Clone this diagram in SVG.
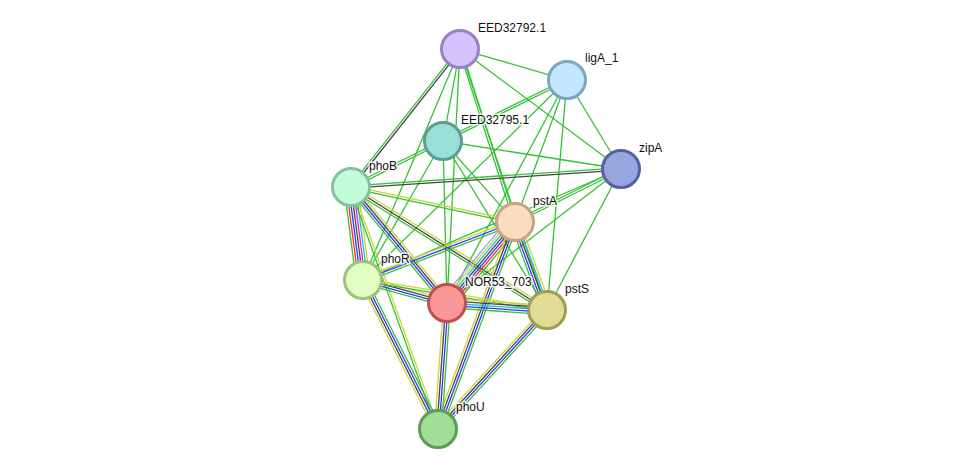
<svg xmlns="http://www.w3.org/2000/svg" width="976" height="474" viewBox="0 0 976 474">
<style>
line{stroke-width:1.3;fill:none}
.g{stroke:#33c233}.k{stroke:#454545}.b{stroke:#3434ff}.y{stroke:#c8d43a}.r{stroke:#ff2a2a}.m{stroke:#d22ad2}.c{stroke:#28bcd4}.v{stroke:#a0a0ff}
circle{stroke-width:3}
text{font-family:"Liberation Sans",Arial,sans-serif;font-size:12px;fill:#111;stroke:#fff;stroke-width:3;stroke-opacity:0.85;paint-order:stroke;stroke-linejoin:round}
</style>
<rect width="976" height="474" fill="#fff"/>
<g id="edges">
<g transform="translate(460,49) rotate(16.16)"><line class="g" x1="0" y1="0" x2="111.4" y2="0"/></g>
<g transform="translate(460,49) rotate(100.47)"><line class="g" x1="0" y1="0" x2="93.6" y2="0"/></g>
<g transform="translate(460,49) rotate(36.70)"><line class="g" x1="0" y1="0" x2="200.8" y2="0"/></g>
<g transform="translate(460,49) rotate(72.36)"><line class="g" x1="0" y1="-1.15" x2="181.5" y2="-1.15"/><line class="g" x1="0" y1="1.15" x2="181.5" y2="1.15"/></g>
<g transform="translate(460,49) rotate(92.93)"><line class="g" x1="0" y1="0" x2="254.3" y2="0"/></g>
<g transform="translate(460,49) rotate(112.78)"><line class="g" x1="0" y1="0" x2="250.5" y2="0"/></g>
<g transform="translate(460,49) rotate(71.57)"><line class="g" x1="0" y1="0" x2="275.1" y2="0"/></g>
<g transform="translate(460,49) rotate(128.31)"><line class="k" x1="0" y1="-1.15" x2="175.9" y2="-1.15"/><line class="g" x1="0" y1="1.15" x2="175.9" y2="1.15"/></g>
<g transform="translate(567,80) rotate(153.80)"><line class="g" x1="0" y1="-1.15" x2="138.2" y2="-1.15"/><line class="g" x1="0" y1="1.15" x2="138.2" y2="1.15"/></g>
<g transform="translate(567,80) rotate(135.57)"><line class="g" x1="0" y1="0" x2="285.7" y2="0"/></g>
<g transform="translate(567,80) rotate(118.29)"><line class="g" x1="0" y1="0" x2="253.2" y2="0"/></g>
<g transform="translate(567,80) rotate(110.11)"><line class="g" x1="0" y1="0" x2="151.2" y2="0"/></g>
<g transform="translate(567,80) rotate(94.97)"><line class="g" x1="0" y1="0" x2="230.9" y2="0"/></g>
<g transform="translate(567,80) rotate(58.75)"><line class="g" x1="0" y1="0" x2="104.1" y2="0"/></g>
<g transform="translate(443,141) rotate(153.43)"><line class="g" x1="0" y1="-1.15" x2="102.9" y2="-1.15"/><line class="g" x1="0" y1="1.15" x2="102.9" y2="1.15"/></g>
<g transform="translate(443,141) rotate(8.94)"><line class="g" x1="0" y1="0" x2="180.2" y2="0"/></g>
<g transform="translate(443,141) rotate(48.37)"><line class="g" x1="0" y1="0" x2="108.4" y2="0"/></g>
<g transform="translate(443,141) rotate(88.59)"><line class="g" x1="0" y1="0" x2="162" y2="0"/></g>
<g transform="translate(443,141) rotate(58.39)"><line class="g" x1="0" y1="0" x2="198.4" y2="0"/></g>
<g transform="translate(443,141) rotate(119.92)"><line class="g" x1="0" y1="0" x2="160.4" y2="0"/></g>
<g transform="translate(621,169) rotate(176.19)"><line class="k" x1="0" y1="-1.15" x2="270.6" y2="-1.15"/><line class="g" x1="0" y1="1.15" x2="270.6" y2="1.15"/></g>
<g transform="translate(621,169) rotate(153.43)"><line class="g" x1="0" y1="-1.15" x2="118.5" y2="-1.15"/><line class="g" x1="0" y1="1.15" x2="118.5" y2="1.15"/></g>
<g transform="translate(621,169) rotate(142.40)"><line class="g" x1="0" y1="0" x2="219.6" y2="0"/></g>
<g transform="translate(621,169) rotate(117.69)"><line class="g" x1="0" y1="0" x2="159.2" y2="0"/></g>
<g transform="translate(621,169) rotate(156.72)"><line class="g" x1="0" y1="0" x2="280.9" y2="0"/></g>
<g transform="translate(351,187) rotate(82.65)"><line class="g" x1="0" y1="6.9" x2="93.8" y2="6.9"/><line class="r" x1="0" y1="4.6" x2="93.8" y2="4.6"/><line class="b" x1="0" y1="2.3" x2="93.8" y2="2.3"/><line class="k" x1="0" y1="0" x2="93.8" y2="0"/><line class="m" x1="0" y1="-2.3" x2="93.8" y2="-2.3"/><line class="c" x1="0" y1="-4.6" x2="93.8" y2="-4.6"/><line class="y" x1="0" y1="-6.9" x2="93.8" y2="-6.9"/></g>
<g transform="translate(351,187) rotate(50.39)"><line class="y" x1="0" y1="-3.45" x2="150.6" y2="-3.45"/><line class="k" x1="0" y1="-1.15" x2="150.6" y2="-1.15"/><line class="b" x1="0" y1="1.15" x2="150.6" y2="1.15"/><line class="g" x1="0" y1="3.45" x2="150.6" y2="3.45"/></g>
<g transform="translate(351,187) rotate(12.05)"><line class="y" x1="0" y1="-1.15" x2="167.7" y2="-1.15"/><line class="g" x1="0" y1="1.15" x2="167.7" y2="1.15"/></g>
<g transform="translate(351,187) rotate(32.11)"><line class="y" x1="0" y1="-2.3" x2="231.4" y2="-2.3"/><line class="k" x1="0" y1="0" x2="231.4" y2="0"/><line class="g" x1="0" y1="2.3" x2="231.4" y2="2.3"/></g>
<g transform="translate(351,187) rotate(70.23)"><line class="y" x1="0" y1="-1.15" x2="257.2" y2="-1.15"/><line class="g" x1="0" y1="1.15" x2="257.2" y2="1.15"/></g>
<g transform="translate(515,222) rotate(159.11)"><line class="g" x1="0" y1="-2.3" x2="162.7" y2="-2.3"/><line class="b" x1="0" y1="0" x2="162.7" y2="0"/><line class="y" x1="0" y1="2.3" x2="162.7" y2="2.3"/></g>
<g transform="translate(515,222) rotate(130.01)"><line class="g" x1="0" y1="-6.9" x2="105.8" y2="-6.9"/><line class="r" x1="0" y1="-4.6" x2="105.8" y2="-4.6"/><line class="b" x1="0" y1="-2.3" x2="105.8" y2="-2.3"/><line class="k" x1="0" y1="0" x2="105.8" y2="0"/><line class="c" x1="0" y1="2.3" x2="105.8" y2="2.3"/><line class="y" x1="0" y1="4.6" x2="105.8" y2="4.6"/><line class="v" x1="0" y1="6.9" x2="105.8" y2="6.9"/></g>
<g transform="translate(515,222) rotate(70.02)"><line class="g" x1="0" y1="4.6" x2="93.6" y2="4.6"/><line class="b" x1="0" y1="2.3" x2="93.6" y2="2.3"/><line class="k" x1="0" y1="0" x2="93.6" y2="0"/><line class="c" x1="0" y1="-2.3" x2="93.6" y2="-2.3"/><line class="y" x1="0" y1="-4.6" x2="93.6" y2="-4.6"/></g>
<g transform="translate(515,222) rotate(110.40)"><line class="g" x1="0" y1="-3.45" x2="220.9" y2="-3.45"/><line class="b" x1="0" y1="-1.15" x2="220.9" y2="-1.15"/><line class="k" x1="0" y1="1.15" x2="220.9" y2="1.15"/><line class="y" x1="0" y1="3.45" x2="220.9" y2="3.45"/></g>
<g transform="translate(363,280) rotate(15.31)"><line class="y" x1="0" y1="-3.45" x2="87.1" y2="-3.45"/><line class="k" x1="0" y1="-1.15" x2="87.1" y2="-1.15"/><line class="b" x1="0" y1="1.15" x2="87.1" y2="1.15"/><line class="g" x1="0" y1="3.45" x2="87.1" y2="3.45"/></g>
<g transform="translate(363,280) rotate(9.26)"><line class="y" x1="0" y1="-1.15" x2="186.4" y2="-1.15"/><line class="g" x1="0" y1="1.15" x2="186.4" y2="1.15"/></g>
<g transform="translate(363,280) rotate(63.28)"><line class="g" x1="0" y1="-3.45" x2="166.8" y2="-3.45"/><line class="b" x1="0" y1="-1.15" x2="166.8" y2="-1.15"/><line class="k" x1="0" y1="1.15" x2="166.8" y2="1.15"/><line class="y" x1="0" y1="3.45" x2="166.8" y2="3.45"/></g>
<g transform="translate(447,303) rotate(4.00)"><line class="y" x1="0" y1="-4.6" x2="100.2" y2="-4.6"/><line class="k" x1="0" y1="-2.3" x2="100.2" y2="-2.3"/><line class="c" x1="0" y1="0" x2="100.2" y2="0"/><line class="b" x1="0" y1="2.3" x2="100.2" y2="2.3"/><line class="g" x1="0" y1="4.6" x2="100.2" y2="4.6"/></g>
<g transform="translate(447,303) rotate(94.09)"><line class="g" x1="0" y1="-3.45" x2="126.3" y2="-3.45"/><line class="b" x1="0" y1="-1.15" x2="126.3" y2="-1.15"/><line class="k" x1="0" y1="1.15" x2="126.3" y2="1.15"/><line class="y" x1="0" y1="3.45" x2="126.3" y2="3.45"/></g>
<g transform="translate(547,310) rotate(132.49)"><line class="g" x1="0" y1="-3.45" x2="161.4" y2="-3.45"/><line class="b" x1="0" y1="-1.15" x2="161.4" y2="-1.15"/><line class="k" x1="0" y1="1.15" x2="161.4" y2="1.15"/><line class="y" x1="0" y1="3.45" x2="161.4" y2="3.45"/></g>
</g>
<g id="n-EED32792"><circle cx="460" cy="49" r="18.5" fill="#d4c3fc" stroke="#9a80c6"/><text x="478" y="32">EED32792.1</text></g>
<g id="n-ligA_1"><circle cx="567" cy="80" r="18.5" fill="#c3e7fc" stroke="#7aa6c4"/><text x="585" y="62">ligA_1</text></g>
<g id="n-EED32795"><circle cx="443" cy="141" r="18.5" fill="#98e0d6" stroke="#5f9c93"/><text x="461" y="124">EED32795.1</text></g>
<g id="n-zipA"><circle cx="621" cy="169" r="18.5" fill="#98a6e0" stroke="#5560a0"/><text x="639" y="152">zipA</text></g>
<g id="n-phoB"><circle cx="351" cy="187" r="18.5" fill="#c1fdd9" stroke="#84c29e"/><text x="369" y="170">phoB</text></g>
<g id="n-pstA"><circle cx="515" cy="222" r="18.5" fill="#fcdcbf" stroke="#c4a484"/><text x="533" y="205">pstA</text></g>
<g id="n-phoR"><circle cx="363" cy="280" r="18.5" fill="#e0ffc0" stroke="#a0c080"/><text x="381" y="263">phoR</text></g>
<g id="n-NOR53_703"><circle cx="447" cy="303" r="18.5" fill="#fd9696" stroke="#c05050"/><text x="465" y="286">NOR53_703</text></g>
<g id="n-pstS"><circle cx="547" cy="310" r="18.5" fill="#e0dc96" stroke="#a09c58"/><text x="565" y="293">pstS</text></g>
<g id="n-phoU"><circle cx="438" cy="429" r="18.5" fill="#9fe096" stroke="#5e9c55"/><text x="456" y="411">phoU</text></g>
</svg>
